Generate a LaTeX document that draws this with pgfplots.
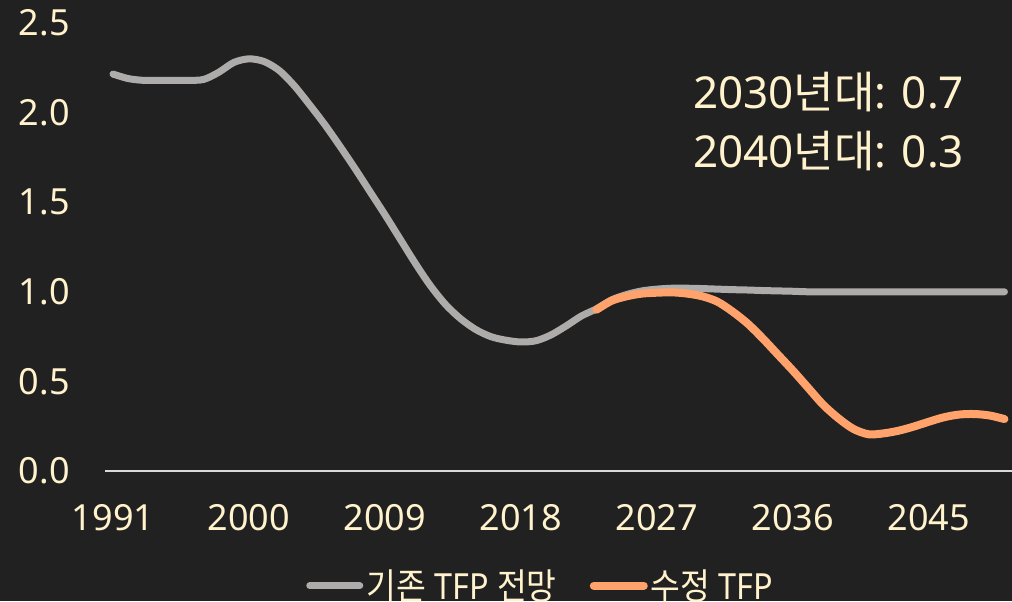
\documentclass[border=0pt]{standalone}
\usepackage{pgfplots}
\usepackage{pgfplotstable}
\usepackage{graphicx}
\pgfplotsset{compat=1.18}
\usepackage{fontspec}
\setmainfont{Noto Sans}
\newfontfamily\kr{Noto Sans CJK KR}
\definecolor{bg}{HTML}{212121}
\definecolor{cream}{HTML}{FFF2CC}
\definecolor{lgray}{HTML}{AEABAB}
\definecolor{lorange}{HTML}{FFA26B}
\definecolor{axgray}{HTML}{D9D9D9}
\pgfplotstableread{
year val
1991 2.215
1992 2.19
1993 2.18
1994 2.18
1995 2.18
1996 2.18
1997 2.185
1998 2.225
1999 2.28
2000 2.30
2001 2.285
2002 2.235
2003 2.15
2004 2.045
2005 1.935
2006 1.815
2007 1.69
2008 1.56
2009 1.43
2010 1.295
2011 1.16
2012 1.035
2013 0.93
2014 0.85
2015 0.79
2016 0.75
2017 0.73
2018 0.72
2019 0.727
2020 0.76
2021 0.81
2022 0.865
2023 0.905
2024 0.955
2025 0.985
2026 1.005
2027 1.015
2028 1.02
2029 1.02
2030 1.018
2031 1.015
2032 1.012
2033 1.01
2034 1.007
2035 1.005
2036 1.003
2037 1.0
2038 1.0
2039 1.0
2040 1.0
2041 1.0
2042 1.0
2043 1.0
2044 1.0
2045 1.0
2046 1.0
2047 1.0
2048 1.0
2049 1.0
2050 1.0
}\graydata
\pgfplotstableread{
year val
2023 0.90
2024 0.95
2025 0.975
2026 0.99
2027 0.995
2028 0.997
2029 0.99
2030 0.975
2031 0.945
2032 0.89
2033 0.823
2034 0.74
2035 0.65
2036 0.56
2037 0.465
2038 0.37
2039 0.295
2040 0.235
2041 0.205
2042 0.21
2043 0.225
2044 0.248
2045 0.275
2046 0.30
2047 0.315
2048 0.318
2049 0.31
2050 0.29
}\orangedata
\begin{document}
\begin{tikzpicture}
\fill[bg] (0,0) rectangle (506pt,300.5pt);
\useasboundingbox (0,0) rectangle (506pt,300.5pt);
\clip (0,0) rectangle (506pt,300.5pt);
\begin{axis}[
  at={(52.5pt,65pt)}, anchor=south west,
  scale only axis, width=453.5pt, height=224pt,
  xmin=1990.47, xmax=2050.5, ymin=0, ymax=2.5,
  axis lines*=left,
  x axis line style={draw=axgray, line width=1pt},
  y axis line style={draw=none},
  tick style={draw=none},
  xtick={1991,2000,2009,2018,2027,2036,2045},
  ytick={0,0.5,1,1.5,2,2.5},
  x tick label style={/pgf/number format/1000 sep={}, /pgf/number format/assume math mode=true},
  y tick label style={/pgf/number format/fixed, /pgf/number format/fixed zerofill, /pgf/number format/precision=1, /pgf/number format/assume math mode=true},
  xticklabel style={anchor=base, yshift=-29.5pt, font=\fontsize{18}{20}\selectfont, text=cream},
  yticklabel style={anchor=east, inner sep=0pt, xshift=-17.5pt, font=\fontsize{18}{20}\selectfont, text=cream},
  legend columns=-1,
  legend style={at={(0.481,-0.256)}, anchor=center, draw=none, fill=none,
    font=\fontsize{18}{20}\selectfont, text=cream,
    nodes={inner sep=1.5pt},
    /tikz/every even column/.append style={column sep=15pt}},
  legend image code/.code={\draw[#1, line cap=round] (2pt,0pt) -- (27pt,0pt);},
  clip=false,
]
\addplot[lgray, line width=3.5pt, smooth, line cap=round, line join=round] table[x=year,y=val]{\graydata};
\addlegendentry{\scalebox{0.9}[1]{{\kr 기존} TFP {\kr 전망}}}
\addplot[lorange, line width=4pt, smooth, line cap=round, line join=round] table[x=year,y=val]{\orangedata};
\addlegendentry{\scalebox{0.9}[1]{{\kr 수정} TFP}}
\node[anchor=base west, inner sep=0pt, text=cream, font=\fontsize{22}{24}\selectfont] at (axis cs:2029.38,2.024) {2030{\kr 년대}: 0.7};
\node[anchor=base west, inner sep=0pt, text=cream, font=\fontsize{22}{24}\selectfont] at (axis cs:2029.38,1.691) {2040{\kr 년대}: 0.3};
\end{axis}
\end{tikzpicture}
\end{document}
